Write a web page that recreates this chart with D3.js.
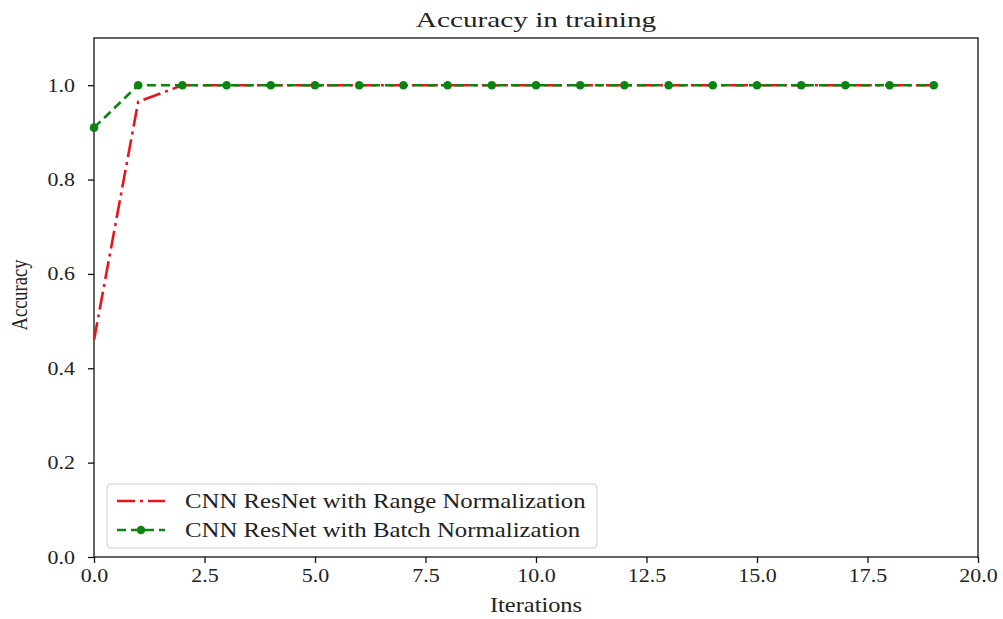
<!DOCTYPE html>
<html>
<head>
<meta charset="utf-8">
<script src="https://cdn.jsdelivr.net/npm/d3@7"></script>
<style>
  body { margin: 0; background: #fff; }
  text { font-family: "Liberation Serif", "DejaVu Serif", serif; fill: #222; }
</style>
</head>
<body>
<div id="chart"></div>
<script>
const iterations = d3.range(0, 20);
const rangeNorm = [0.46, 0.965, 1, 1, 1, 1, 1, 1, 1, 1, 1, 1, 1, 1, 1, 1, 1, 1, 1, 1];
const batchNorm = [0.91, 1, 1, 1, 1, 1, 1, 1, 1, 1, 1, 1, 1, 1, 1, 1, 1, 1, 1, 1];
const xTicks = [0, 2.5, 5, 7.5, 10, 12.5, 15, 17.5, 20];
const yTicks = [0, 0.2, 0.4, 0.6, 0.8, 1.0];
const seriesNames = ['CNN ResNet with Range Normalization', 'CNN ResNet with Batch Normalization'];

const W = 1003, H = 619;
const margin = { top: 38, right: 25, bottom: 62, left: 94 };
const stretch = 1.22; // the picture is a bit wider than tall

const svg = d3.select('#chart').append('svg').attr('width', W).attr('height', H);

const x = d3.scaleLinear().domain([0, 20]).range([margin.left, W - margin.right]);
const y = d3.scaleLinear().domain([0, 1.1]).range([H - margin.bottom, margin.top]);

// axes
const xAxis = svg.append('g')
  .attr('transform', `translate(0,${H - margin.bottom})`)
  .call(d3.axisBottom(x).tickValues(xTicks).tickFormat(d3.format('.1f')).tickSizeOuter(0).tickSize(6));
const yAxis = svg.append('g')
  .attr('transform', `translate(${margin.left},0)`)
  .call(d3.axisLeft(y).tickValues(yTicks).tickFormat(d3.format('.1f')).tickSizeOuter(0).tickSize(6));

[xAxis, yAxis].forEach(a => {
  a.select('.domain').remove();
  a.selectAll('.tick line').attr('stroke', '#111').attr('stroke-width', 1.3);
  a.selectAll('.tick text').attr('font-size', 18).attr('fill', '#333');
});
xAxis.selectAll('.tick text').attr('y', 0).attr('dy', 0)
  .attr('transform', `translate(0,25) scale(${stretch},1)`);
yAxis.selectAll('.tick text').attr('x', 0).attr('dy', 0)
  .attr('transform', `translate(-19,6) scale(${stretch},1)`);

// frame
svg.append('rect')
  .attr('x', margin.left).attr('y', margin.top)
  .attr('width', W - margin.left - margin.right)
  .attr('height', H - margin.top - margin.bottom)
  .attr('fill', 'none').attr('stroke', '#111').attr('stroke-width', 1.3);

const line = d3.line().x((d, i) => x(iterations[i])).y(d => y(d));
const redDash = '18,5,3,5', greenDash = '9,5';

svg.append('path').datum(rangeNorm)
  .attr('d', line).attr('fill', 'none')
  .attr('stroke', '#e8141c').attr('stroke-width', 2.6)
  .attr('stroke-dasharray', redDash);

svg.append('path').datum(batchNorm)
  .attr('d', line).attr('fill', 'none')
  .attr('stroke', '#0c8412').attr('stroke-width', 2.6)
  .attr('stroke-dasharray', greenDash);

svg.selectAll('.pt').data(batchNorm).join('circle')
  .attr('class', 'pt')
  .attr('cx', (d, i) => x(iterations[i])).attr('cy', d => y(d))
  .attr('r', 4.3).attr('fill', '#0c8412');

// titles
const cx = (margin.left + W - margin.right) / 2;
svg.append('text').attr('transform', `translate(${cx},27) scale(1.33,1)`)
  .attr('text-anchor', 'middle').attr('font-size', 22).text('Accuracy in training');
svg.append('text').attr('transform', `translate(${cx},612) scale(${stretch},1)`)
  .attr('text-anchor', 'middle').attr('font-size', 20).attr('fill', '#333').text('Iterations');
svg.append('text').attr('transform', `translate(27,295) rotate(-90) scale(1,${stretch})`)
  .attr('text-anchor', 'middle').attr('font-size', 18.5).attr('fill', '#333').text('Accuracy');

// legend
const lg = svg.append('g').attr('transform', 'translate(107,484)');
lg.append('rect').attr('width', 490).attr('height', 64).attr('rx', 4)
  .attr('fill', '#fff').attr('fill-opacity', 0.85).attr('stroke', '#ccc').attr('stroke-width', 1);
const styles = [
  { color: '#e8141c', dash: redDash, marker: false },
  { color: '#0c8412', dash: greenDash, marker: true }
];
seriesNames.forEach((name, i) => {
  const yy = 17 + i * 29;
  const s = styles[i];
  lg.append('line').attr('x1', 10).attr('x2', 58).attr('y1', yy).attr('y2', yy)
    .attr('stroke', s.color).attr('stroke-width', 2.6).attr('stroke-dasharray', s.dash);
  if (s.marker) lg.append('circle').attr('cx', 34).attr('cy', yy).attr('r', 4.3).attr('fill', s.color);
  lg.append('text').attr('transform', `translate(78,${yy + 7}) scale(1.24,1)`)
    .attr('font-size', 20).attr('fill', '#333').text(name);
});
</script>
</body>
</html>
